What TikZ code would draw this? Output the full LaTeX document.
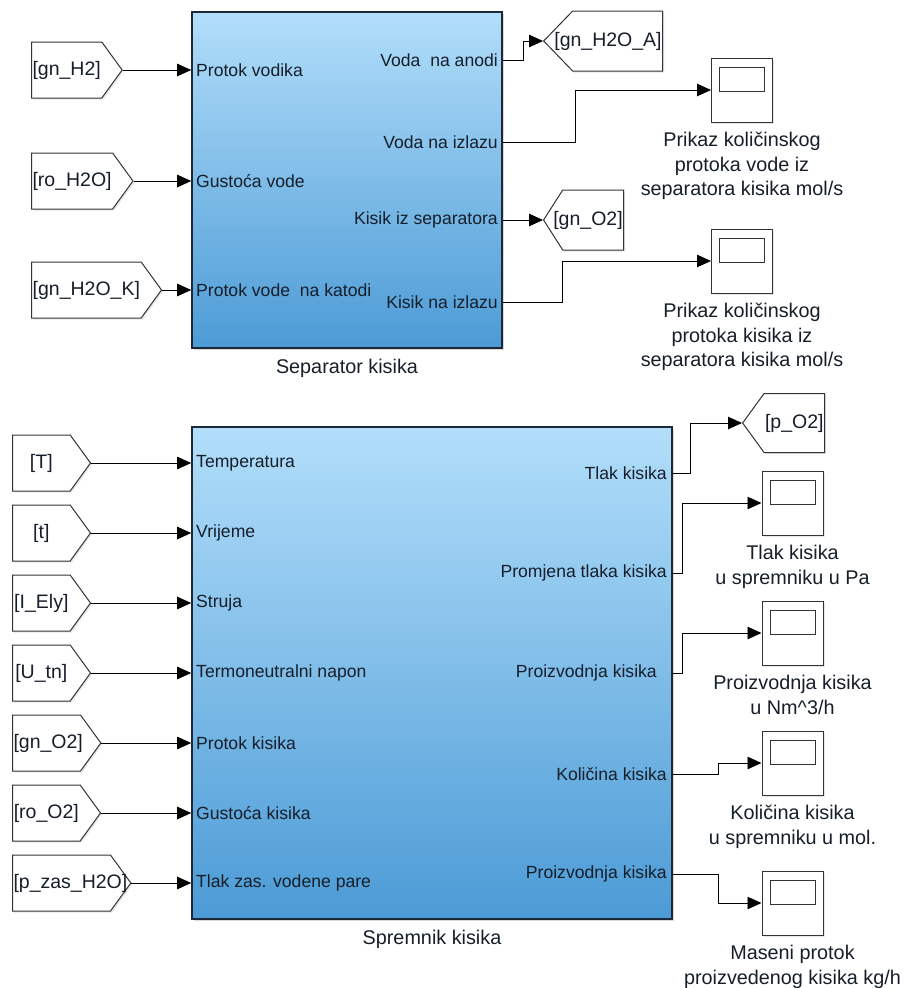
\documentclass[tikz,border=0pt]{standalone}
\usepackage{fontspec}
\setmainfont{Liberation Sans}
\usetikzlibrary{arrows.meta,positioning,shapes.symbols,shadows}
\definecolor{blkTop} {RGB}{178,222,250}
\definecolor{blkBot} {RGB}{ 76,155,214}
\definecolor{blkEdge}{RGB}{ 28, 40, 54}
\definecolor{txtDark}{RGB}{ 22, 30, 42}
\newcommand{\portfont}{\fontsize{17.6}{20}\selectfont}
\newcommand{\tagfont}{\fontsize{19.5}{22}\selectfont}
\newcommand{\capfont}{\fontsize{19.8}{24.5}\selectfont}

\begin{document}
\begin{tikzpicture}[x=1pt,y=-1pt,
  every node/.style={text=txtDark},
  blk/.style={rectangle,draw=blkEdge,line width=1.6pt,top color=blkTop,bottom color=blkBot,
    drop shadow={shadow xshift=2pt,shadow yshift=-2pt,opacity=.3}},
  tagbase/.style={signal,draw=black!80,fill=white,line width=1pt,signal pointer angle=108,
    minimum height=56pt,inner sep=1pt,font=\tagfont,
    drop shadow={shadow xshift=1.5pt,shadow yshift=-1.5pt,opacity=.2}},
  tagin/.style={tagbase,signal to=east},
  tagout/.style={tagbase,signal to=west},
  scp/.style={draw=black!80,fill=white,line width=1pt,minimum width=61pt,minimum height=64pt,
    path picture={\draw[line width=1pt] ([xshift=8pt,yshift=-9pt]path picture bounding box.north west)
      rectangle ++(45pt,-24pt);},
    drop shadow={shadow xshift=1.5pt,shadow yshift=-1.5pt,opacity=.2}},
  pin/.style={font=\portfont,anchor=west,inner sep=2pt},
  pout/.style={font=\portfont,anchor=east,inner sep=2pt},
  capnode/.style={font=\capfont,align=center,inner sep=2pt},
  sig/.style={-{Triangle[length=14pt,width=12.5pt]},line width=.9pt}
]
\useasboundingbox (0,0) rectangle (904,988);

% Separator kisika
\node[blk,minimum width=310pt,minimum height=336pt] (sep) at (347,180) {};
\node[capnode,below=8.5pt of sep] (sepName) {Separator kisika};

\node[tagin,minimum width=90pt,anchor=west]  (fH2)   at (31,70)  {[gn\_H2]};
\node[tagin,minimum width=91pt,anchor=west]  (fRoW)  at (31,181) {[ro\_H2O]};
\node[tagin,minimum width=130pt,anchor=west] (fH2OK) at (31,290) {[gn\_H2O\_K]};

\node[pin] (sIn1) at (194,70)  {Protok vodika};
\node[pin] (sIn2) at (194,181) {Gustoća vode};
\node[pin] (sIn3) at (194,290) {Protok vode\ \ na katodi};

\draw[sig] (fH2.east)   -- (fH2.east -| sep.west);
\draw[sig] (fRoW.east)  -- (fRoW.east -| sep.west);
\draw[sig] (fH2OK.east) -- (fH2OK.east -| sep.west);

\node[pout] (sOut1) at (500,60)  {Voda\ \ na anodi};
\node[pout] (sOut2) at (500,142) {Voda na izlazu};
\node[pout] (sOut3) at (500,220) {Kisik iz separatora};
\node[pout] (sOut4) at (500,302) {Kisik na izlazu};

\node[tagout,minimum height=60pt,signal pointer angle=92,anchor=west]
  (gH2OA) at (543,41) {\makebox[88pt][r]{[gn\_H2O\_A]}};
\node[tagout,minimum height=60pt,signal pointer angle=115,anchor=west]
  (gO2) at (543,220) {\makebox[59pt][r]{[gn\_O2]}};
\node[scp] (sc1) at (742,90)  {};
\node[scp] (sc2) at (742,261) {};
\node[capnode,below=7.5pt of sc1] (sc1Cap) {Prikaz količinskog\\protoka vode iz\\separatora kisika mol/s};
\node[capnode,below=7.5pt of sc2] (sc2Cap) {Prikaz količinskog\\protoka kisika iz\\separatora kisika mol/s};

\draw[sig] (sep.east |- sOut1) -- ++(21,0) |- (gH2OA.west);
\draw[sig] (sep.east |- sOut2) -- ++(73,0) |- (sc1.west);
\draw[sig] (sep.east |- sOut3) -- (gO2.west);
\draw[sig] (sep.east |- sOut4) -- ++(60,0) |- (sc2.west);

% Spremnik kisika
\node[blk,minimum width=480pt,minimum height=492pt] (spr) at (432,673) {};
\node[capnode,below=8.5pt of spr] (sprName) {Spremnik kisika};

\node[tagin,minimum width=78pt,anchor=west]  (fT)    at (12,463) {[T]};
\node[tagin,minimum width=78pt,anchor=west]  (ft)    at (12,533) {[t]};
\node[tagin,minimum width=78pt,anchor=west]  (fI)    at (12,603) {[I\_Ely]};
\node[tagin,minimum width=78pt,anchor=west]  (fU)    at (12,673) {[U\_tn]};
\node[tagin,minimum width=88pt,anchor=west]  (fgnO2) at (12,743) {\makebox[66pt][l]{[gn\_O2]}};
\node[tagin,minimum width=88pt,anchor=west]  (froO2) at (12,813) {[ro\_O2]};
\node[tagin,minimum width=118pt,anchor=west] (fpz)   at (12,883) {\makebox[96pt][l]{[p\_zas\_H2O]}};

\node[pin] (pIn1) at (194,463) {Temperatura};
\node[pin] (pIn2) at (194,533) {Vrijeme};
\node[pin] (pIn3) at (194,603) {Struja};
\node[pin] (pIn4) at (194,673) {Termoneutralni napon};
\node[pin] (pIn5) at (194,743) {Protok kisika};
\node[pin] (pIn6) at (194,813) {Gustoća kisika};
\node[pin] (pIn7) at (194,883) {Tlak zas. vodene pare};

\draw[sig] (fT.east)    -- (fT.east -| spr.west);
\draw[sig] (ft.east)    -- (ft.east -| spr.west);
\draw[sig] (fI.east)    -- (fI.east -| spr.west);
\draw[sig] (fU.east)    -- (fU.east -| spr.west);
\draw[sig] (fgnO2.east) -- (fgnO2.east -| spr.west);
\draw[sig] (froO2.east) -- (froO2.east -| spr.west);
\draw[sig] (fpz.east)   -- (fpz.east -| spr.west);

\node[pout] (pOut1) at (669,473) {Tlak kisika};
\node[pout] (pOut2) at (669,573) {Promjena tlaka kisika};
\node[pout] (pOut3) at (659,673) {Proizvodnja kisika};
\node[pout] (pOut4) at (669,774) {Količina kisika};
\node[pout] (pOut5) at (669,874) {Proizvodnja kisika};

\node[tagout,minimum width=81pt,minimum height=59pt,anchor=west] (gpO2) at (742,423) {[p\_O2]};
\node[scp] (sc3) at (792.5,503) {};
\node[scp] (sc4) at (792.5,633) {};
\node[scp] (sc5) at (792.5,763) {};
\node[scp] (sc6) at (792.5,903) {};
\node[capnode,below=7.5pt of sc3] (sc3Cap) {Tlak kisika\\u spremniku u Pa};
\node[capnode,below=7.5pt of sc4] (sc4Cap) {Proizvodnja kisika\\u Nm\textasciicircum 3/h};
\node[capnode,below=7.5pt of sc5] (sc5Cap) {Količina kisika\\u spremniku u mol.};
\node[capnode,below=7.5pt of sc6] (sc6Cap) {Maseni protok\\proizvedenog kisika kg/h};

\draw[sig] (spr.east |- pOut1) -- ++(18,0) |- (gpO2.west);
\draw[sig] (spr.east |- pOut2) -- ++(10,0) |- (sc3.west);
\draw[sig] (spr.east |- pOut3) -- ++(10,0) |- (sc4.west);
\draw[sig] (spr.east |- pOut4) -- ++(46,0) |- (sc5.west);
\draw[sig] (spr.east |- pOut5) -- ++(46,0) |- (sc6.west);
\end{tikzpicture}
\end{document}
